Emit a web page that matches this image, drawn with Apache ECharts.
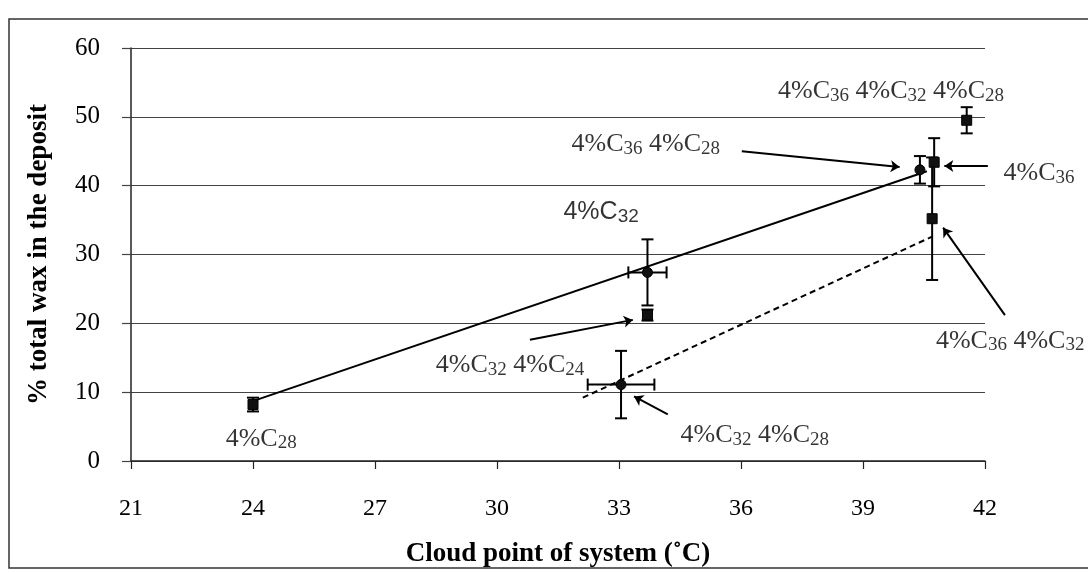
<!DOCTYPE html>
<html>
<head>
<meta charset="utf-8">
<script src="https://cdn.jsdelivr.net/npm/echarts@6/dist/echarts.min.js"></script>
<style>
html,body{margin:0;padding:0;background:#fff;}
#chart{width:1088px;height:573px;}
</style>
</head>
<body>
<div id="chart"></div>
<script>
// ---- data ----
const systems = ['4%C28', '4%C32', '4%C32 4%C24', '4%C32 4%C28', '4%C36 4%C28', '4%C36', '4%C36 4%C32', '4%C36 4%C32 4%C28'];
const cloudPoint = [24.0, 33.7, 33.7, 33.05, 40.4, 40.75, 40.7, 41.55];
const waxPct = [8.2, 27.4, 21.2, 11.1, 42.3, 43.4, 35.2, 49.5];
const waxErr = [1.0, 4.8, 0.8, 4.9, 2.0, 3.5, 8.9, 1.9];
const cloudErr = [0, 0.47, 0, 0.82, 0, 0, 0, 0];
const markerShape = ['rect', 'circle', 'rect', 'circle', 'circle', 'rect', 'rect', 'rect'];

const solidTrendX = [24.05, 40.57];
const solidTrendY = [8.8, 42.1];
const dashedTrendX = [32.11, 40.7];
const dashedTrendY = [9.2, 32.6];

const xTicks = [21, 24, 27, 30, 33, 36, 39, 42];
const yTicks = [0, 10, 20, 30, 40, 50, 60];

const xTitle = 'Cloud point of system (˚C)';
const yTitle = '% total wax in the deposit';

// annotation labels (rich text) anchored in data space
const labelTexts = [
  '4%C{s|36} 4%C{s|32} 4%C{s|28}',
  '4%C{s|36} 4%C{s|28}',
  '4%C{s|36}',
  '4%C{s|32}',
  '4%C{s|32} 4%C{s|24}',
  '4%C{s|32} 4%C{s|28}',
  '4%C{s|28}',
  '4%C{s|36} 4%C{s|32}'
];
const labelX = [39.69, 33.66, 43.33, 32.56, 30.32, 36.34, 24.2, 42.62];
const labelY = [53.7, 46.0, 41.8, 36.2, 13.85, 3.75, 3.2, 17.45];
const labelSans = [false, false, false, true, false, false, false, false];

// arrows (from -> to), data space
const arrowFromX = [36.02, 42.07, 30.81, 34.2, 42.49];
const arrowFromY = [45.0, 42.84, 17.6, 6.78, 21.2];
const arrowToX = [39.9, 41.0, 33.34, 33.37, 40.97];
const arrowToY = [42.7, 42.84, 20.5, 9.38, 33.9];

// ---- build chart ----
const serif = 'Liberation Serif, Times New Roman, serif';
const sans = 'Liberation Sans, Arial, sans-serif';
const ink = '#000';

const pointData = systems.map((n, i) => ({
  name: n,
  value: [cloudPoint[i], waxPct[i]],
  symbol: markerShape[i]
}));
const errData = systems.map((n, i) => [cloudPoint[i], waxPct[i], waxErr[i], cloudErr[i]]);

const labelData = labelTexts.map((t, i) => ({
  value: [labelX[i], labelY[i]],
  label: {
    formatter: t,
    color: ink,
    fontFamily: labelSans[i] ? sans : serif,
    fontSize: labelSans[i] ? 25 : 26,
    rich: {
      s: {
        fontFamily: labelSans[i] ? sans : serif,
        fontSize: 19,
        lineHeight: 19,
        verticalAlign: 'bottom',
        color: ink
      }
    }
  }
}));

const arrowData = arrowFromX.map((x, i) => ({
  coords: [[x, arrowFromY[i]], [arrowToX[i], arrowToY[i]]]
}));

const chart = echarts.init(document.getElementById('chart'), null, {renderer: 'canvas'});
chart.setOption({
  backgroundColor: '#ffffff',
  animation: false,
  grid: {left: 131, right: 103, top: 48, bottom: 109, containLabel: false},
  xAxis: {
    type: 'value', min: xTicks[0], max: xTicks[xTicks.length - 1], interval: xTicks[1] - xTicks[0],
    name: xTitle, nameLocation: 'middle', nameGap: 80,
    nameTextStyle: {fontFamily: serif, fontWeight: 'bold', fontSize: 27, color: ink},
    axisLine: {show: true, onZero: false, lineStyle: {color: '#222', width: 1.5}},
    axisTick: {show: true, inside: false, length: 8, lineStyle: {color: '#222', width: 1.2}},
    axisLabel: {margin: 36, fontFamily: serif, fontSize: 24, color: ink},
    splitLine: {show: false}
  },
  yAxis: {
    type: 'value', min: yTicks[0], max: yTicks[yTicks.length - 1], interval: yTicks[1] - yTicks[0],
    name: yTitle, nameLocation: 'middle', nameGap: 78,
    nameTextStyle: {fontFamily: serif, fontWeight: 'bold', fontSize: 27, color: ink},
    axisLine: {show: true, lineStyle: {color: '#222', width: 1.5}},
    axisTick: {show: true, inside: false, length: 9, lineStyle: {color: '#444', width: 1.2}},
    axisLabel: {margin: 31, fontFamily: serif, fontSize: 25, color: ink},
    splitLine: {show: true, lineStyle: {color: '#444', width: 1.2}}
  },
  graphic: [{
    type: 'rect', shape: {x: 9, y: 19, width: 1100, height: 549},
    style: {fill: 'none', stroke: '#333', lineWidth: 1.5}, silent: true
  }],
  series: [
    {
      type: 'line', name: 'trend', data: solidTrendX.map((x, i) => [x, solidTrendY[i]]),
      symbol: 'none', lineStyle: {color: ink, width: 2}, z: 3
    },
    {
      type: 'line', name: 'trend2', data: dashedTrendX.map((x, i) => [x, dashedTrendY[i]]),
      symbol: 'none', lineStyle: {color: ink, width: 2, type: [6, 4]}, z: 3
    },
    {
      type: 'custom', name: 'err', data: errData, z: 4,
      renderItem: function (params, api) {
        const x = api.value(0), y = api.value(1), ey = api.value(2), ex = api.value(3);
        const top = api.coord([x, y + ey]);
        const bot = api.coord([x, y - ey]);
        const cap = 6;
        const st = {stroke: ink, lineWidth: 2};
        const ch = [
          {type: 'line', shape: {x1: top[0], y1: top[1], x2: bot[0], y2: bot[1]}, style: st},
          {type: 'line', shape: {x1: top[0] - cap, y1: top[1], x2: top[0] + cap, y2: top[1]}, style: st},
          {type: 'line', shape: {x1: bot[0] - cap, y1: bot[1], x2: bot[0] + cap, y2: bot[1]}, style: st}
        ];
        if (ex > 0) {
          const l = api.coord([x - ex, y]);
          const r = api.coord([x + ex, y]);
          ch.push({type: 'line', shape: {x1: l[0], y1: l[1], x2: r[0], y2: r[1]}, style: st});
          ch.push({type: 'line', shape: {x1: l[0], y1: l[1] - cap, x2: l[0], y2: l[1] + cap}, style: st});
          ch.push({type: 'line', shape: {x1: r[0], y1: r[1] - cap, x2: r[0], y2: r[1] + cap}, style: st});
        }
        return {type: 'group', children: ch};
      }
    },
    {
      type: 'scatter', name: 'points', data: pointData, symbolSize: 10, z: 5,
      itemStyle: {color: '#111', borderColor: '#000', borderWidth: 1, opacity: 1}
    },
    {
      type: 'lines', coordinateSystem: 'cartesian2d', data: arrowData, clip: false,
      symbol: ['none', 'arrow'], symbolSize: 9, z: 6,
      lineStyle: {color: ink, width: 2, opacity: 1}
    },
    {
      type: 'scatter', name: 'labels', data: labelData, symbolSize: 0, clip: false, z: 7,
      silent: true,
      label: {show: true, position: 'inside', color: ink, lineHeight: 28}
    }
  ]
});
</script>
</body>
</html>
